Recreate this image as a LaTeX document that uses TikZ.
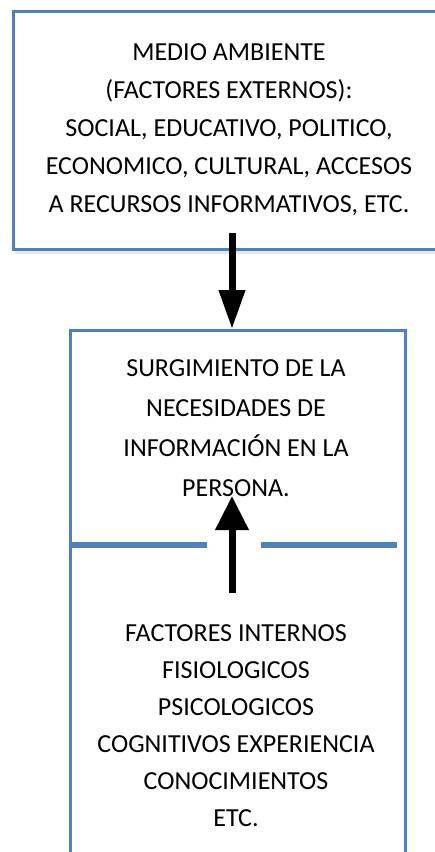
\documentclass[tikz,border=0pt]{standalone}
\usepackage{fontspec}
\setmainfont{Carlito}
\usetikzlibrary{positioning,calc,arrows.meta,shadows}

\begin{document}
\begin{tikzpicture}[x=1pt,y=-1pt,
    every node/.style={inner sep=0pt,align=center,font=\fontsize{26}{38}\selectfont},
    box/.style={draw=color1,line width=3pt,fill=white,drop shadow={opacity=0.18,shadow xshift=2pt,shadow yshift=-5pt}}
  ]
  \definecolor{color1}{HTML}{4F81BD}
  \useasboundingbox (0,0) rectangle (435,852);

  \node[box,minimum width=432pt,minimum height=238pt] at (229,130) (medio)
    {MEDIO AMBIENTE\\(FACTORES EXTERNOS):\\SOCIAL, EDUCATIVO, POLITICO,\\ECONOMICO, CULTURAL, ACCESOS\\A RECURSOS INFORMATIVOS, ETC.};
  \node[box,anchor=north,minimum width=335pt,minimum height=600pt] at (237.5,329) (marco) {};

  \node[font=\fontsize{26}{40}\selectfont] at (236,428) (necesidad)
    {SURGIMIENTO DE LA\\NECESIDADES DE\\INFORMACIÓN EN LA\\PERSONA.};
  \node[font=\fontsize{26}{37}\selectfont] at (236,726) (internos)
    {FACTORES INTERNOS\\FISIOLOGICOS\\PSICOLOGICOS\\COGNITIVOS EXPERIENCIA\\CONOCIMIENTOS\\ETC.};

  % division
  \coordinate (div-izq) at (207,545);
  \coordinate (div-der) at (261,545);
  \draw[color1,line width=6pt] (marco.west |- div-izq) -- (div-izq);
  \draw[color1,line width=6pt] (div-der) -- (397,545);

  % flechas
  \coordinate (bajada) at (232,233);
  \coordinate (subida) at (232,593);
  \draw[line width=7pt,-{Triangle[width=25pt,length=39pt]}] (bajada) -- (bajada |- marco.north);
  \draw[line width=7pt,-{Triangle[width=32pt,length=34pt]}] (subida) -- ++(0,-97);
\end{tikzpicture}
\end{document}
